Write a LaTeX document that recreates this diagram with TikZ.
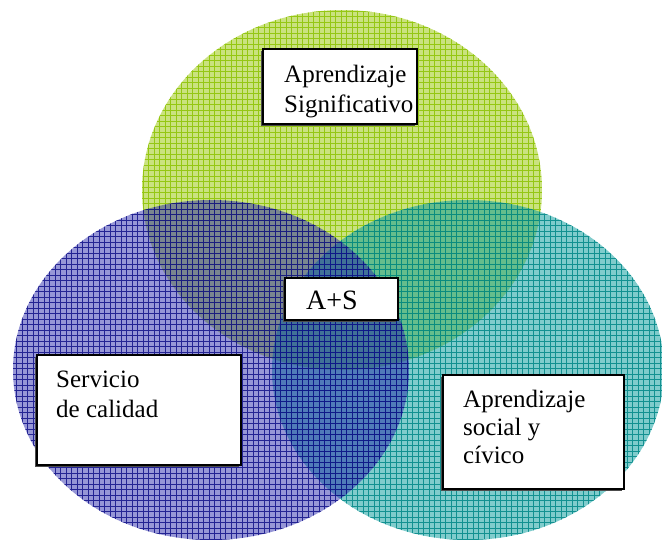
\documentclass[tikz,border=0pt]{standalone}
\usepackage{fontspec}
\setmainfont{Liberation Serif}
\definecolor{gfill}{RGB}{149,197,0}
\definecolor{gline}{RGB}{140,195,0}
\definecolor{bfill}{RGB}{22,22,164}
\definecolor{bline}{RGB}{15,15,135}
\definecolor{tfill}{RGB}{1,153,153}
\definecolor{tline}{RGB}{0,135,135}
\tikzset{
  gridlines/.style={line width=0.8pt, draw opacity=0.85},
  txtbox/.style={draw=black, line width=1.5pt, fill=white},
  shadowbox/.style={fill=black!70},
  lbl/.style={anchor=base west, inner sep=0pt, font=\fontsize{25}{30}\selectfont},
}
\begin{document}
\begin{tikzpicture}[x=1pt,y=-1pt]
\useasboundingbox (0,0) rectangle (662,539);
% green ellipse
\begin{scope}
  \fill[gfill, fill opacity=0.5] (342,190) ellipse [x radius=200, y radius=180];
  \clip (342,190) ellipse [x radius=200, y radius=180];
  \draw[gline, gridlines, step=5.5pt] (130,0) grid (560,380);
\end{scope}
% teal ellipse
\begin{scope}
  \fill[tfill, fill opacity=0.5] (468,370) ellipse [x radius=196, y radius=170];
  \clip (468,370) ellipse [x radius=196, y radius=170];
  \draw[tline, gridlines, step=5.5pt] (260,190) grid (670,545);
\end{scope}
% blue ellipse
\begin{scope}
  \fill[bfill, fill opacity=0.45] (211,370) ellipse [x radius=198, y radius=170];
  \clip (211,370) ellipse [x radius=198, y radius=170];
  \draw[bline, gridlines, step=5.5pt] (0,190) grid (420,545);
\end{scope}
% text boxes with shadows
\fill[shadowbox] (261,51) rectangle (415,126);
\draw[txtbox] (263,49) rectangle (417,124);
\node[lbl] (t1) at (284,82) {Aprendizaje};
\node[lbl] (t2) at (284,112) {Significativo};

\fill[shadowbox] (283,280) rectangle (396,322);
\draw[txtbox] (285,278) rectangle (398,320);
\node[lbl, font=\fontsize{28}{32}\selectfont] (c) at (306,309) {A+S};

\fill[shadowbox] (35,357) rectangle (239,467);
\draw[txtbox] (37,355) rectangle (241,465);
\node[lbl] (s1) at (56,387) {Servicio};
\node[lbl] (s2) at (56,417) {de calidad};

\fill[shadowbox] (441,377) rectangle (622,491);
\draw[txtbox] (443,375) rectangle (624,489);
\node[lbl] (a1) at (463,407) {Aprendizaje};
\node[lbl] (a2) at (463,435) {social y};
\node[lbl] (a3) at (463,463) {cívico};
\end{tikzpicture}
\end{document}
